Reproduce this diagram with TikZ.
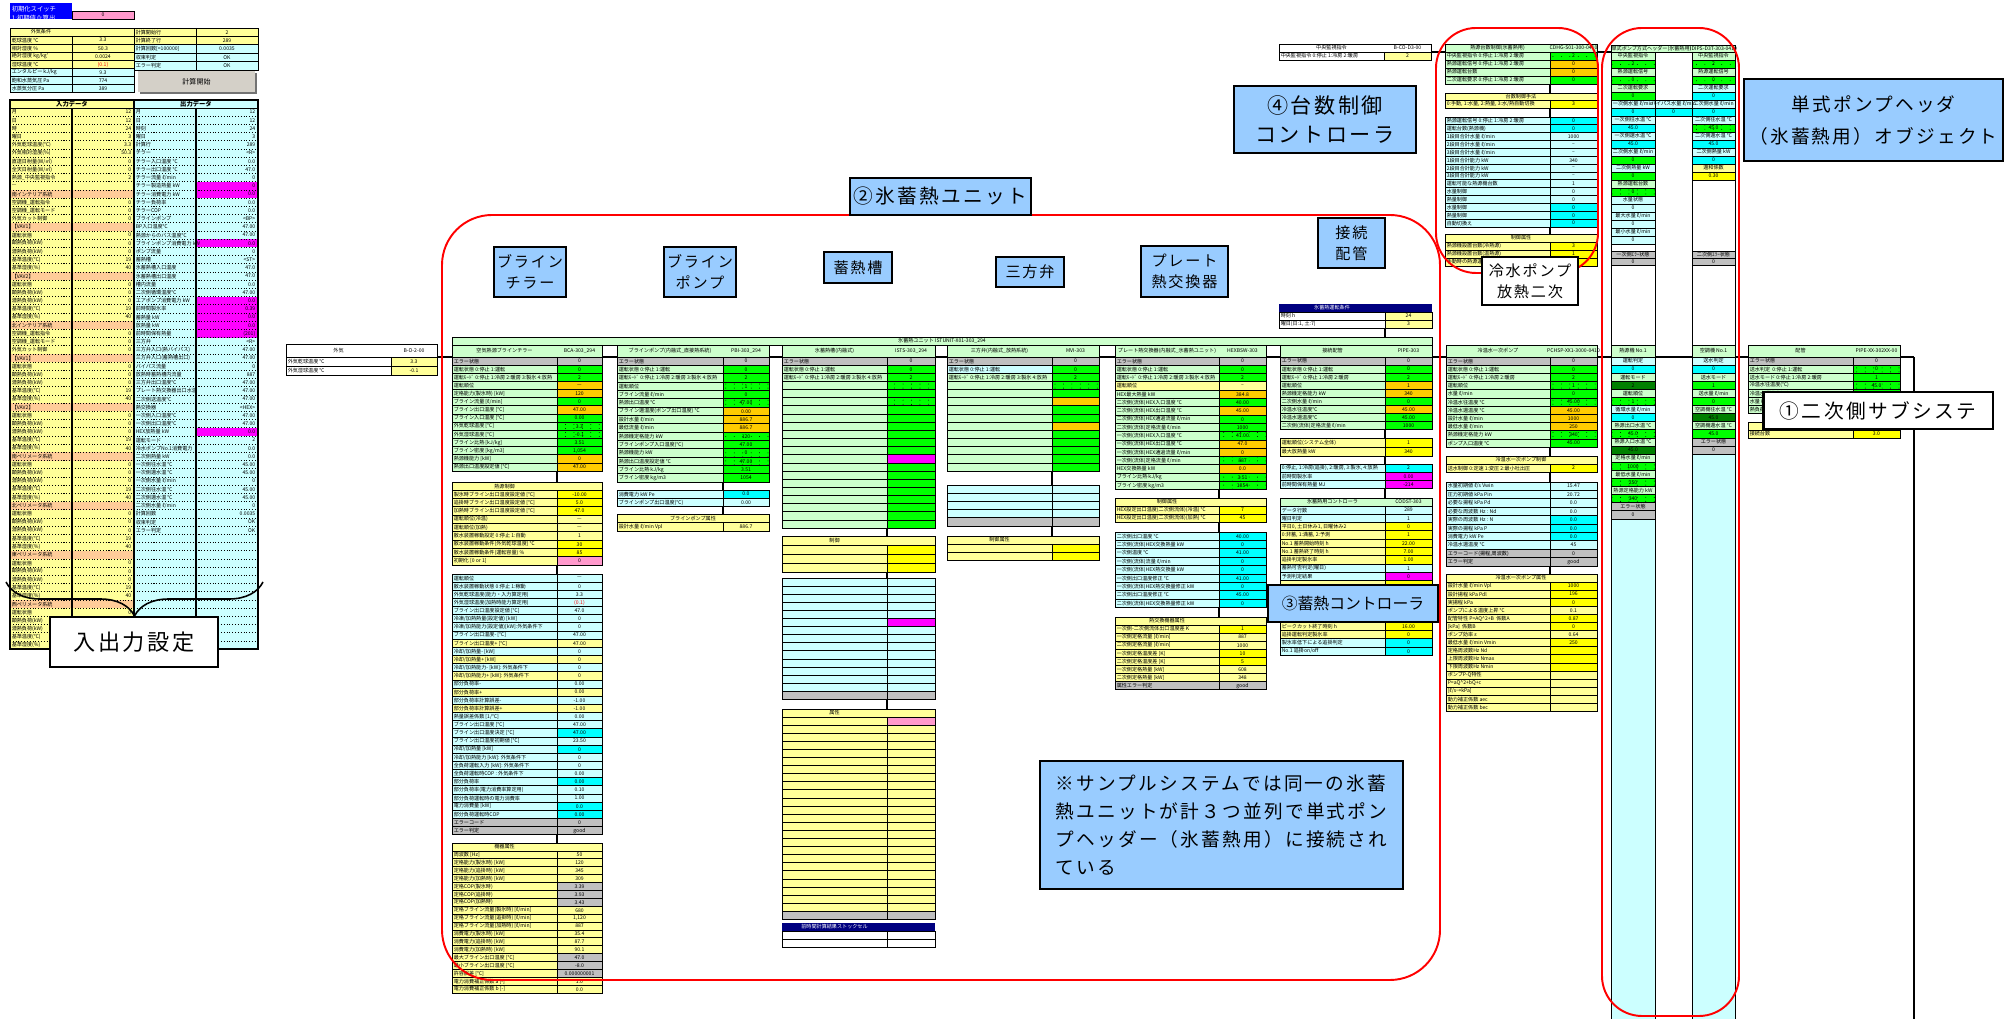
\documentclass[tikz,border=0pt]{standalone}
\usepackage{fontspec}
\setmainfont{Noto Sans CJK JP}
\newfontfamily\calloutfont[LetterSpace=12]{Noto Sans CJK JP}
\usetikzlibrary{positioning,calc,patterns,decorations.pathreplacing}

\definecolor{xlyel}{HTML}{FFFF99}
\definecolor{xyel}{HTML}{FFFF00}
\definecolor{xltg}{HTML}{CCFFCC}
\definecolor{xgrn}{HTML}{00FF00}
\definecolor{xorg}{HTML}{FFCC00}
\definecolor{xlcy}{HTML}{CCFFFF}
\definecolor{xcyn}{HTML}{00FFFF}
\definecolor{xmag}{HTML}{FF00FF}
\definecolor{xpnk}{HTML}{FF99CC}
\definecolor{xpch}{HTML}{FFCC99}
\definecolor{xgry}{HTML}{C0C0C0}
\definecolor{xdkg}{HTML}{008000}
\definecolor{xsky}{HTML}{99CCFF}
\definecolor{xnav}{HTML}{000080}
\definecolor{xblu}{HTML}{0000FF}
\definecolor{xbtn}{HTML}{D4D0C8}

\pgfdeclarepatternformonly{sparsedots}{\pgfqpoint{-0.1pt}{-0.1pt}}{\pgfqpoint{0.1pt}{0.1pt}}{\pgfqpoint{2.4pt}{1.15pt}}{\pgfpathcircle{\pgfqpoint{0pt}{0pt}}{0.14pt}\pgfusepath{fill}}

\tikzset{
  cgray/.style={fill=xgry}, cltg/.style={fill=xltg}, cgrn/.style={fill=xgrn},
  cdot/.style={fill=xgrn,postaction={pattern=sparsedots,pattern color=black}},
  corg/.style={fill=xorg}, cyel/.style={fill=xyel}, clyl/.style={fill=xlyel},
  ccyn/.style={fill=xcyn}, clcy/.style={fill=xlcy}, cmag/.style={fill=xmag},
  cpnk/.style={fill=xpnk}, cpch/.style={fill=xpch}, cwht/.style={fill=white},
  cdkg/.style={fill=xdkg},
  cellrule/.style={draw=black,line width=0.25pt},
  iorule/.style={draw=black,line width=0.2pt,dash pattern=on 0.3pt off 0.5pt},
  celltext/.style={font=\fontsize{1.45}{1.75}\selectfont,inner sep=0.3pt},
  link/.style={draw=black,line width=0.6pt},
  bus/.style={draw=black,line width=0.6pt},
  redframe/.style={draw=red,line width=0.55pt},
  bigcall/.style={draw=black,line width=0.6pt,fill=xsky,align=center,inner sep=0pt,
    font=\calloutfont\fontsize{5.6}{8}\selectfont},
  smallcall/.style={draw=black,line width=0.6pt,fill=xsky,align=center,inner sep=0pt,
    font=\calloutfont\fontsize{4.3}{6}\selectfont},
}

% rows of a sheet table: left, divider, right, top, row height, rows
\newcommand{\sheetrows}[6]{%
  \foreach \lab/\val/\lc/\vc [count=\rowno from 0] in {#6}{%
    \pgfmathsetmacro{\ya}{#4+\rowno*#5}%
    \pgfmathsetmacro{\yb}{\ya+#5}%
    \fill[\lc] (#1,\ya) rectangle (#2,\yb);
    \fill[\vc] (#2,\ya) rectangle (#3,\yb);
    \draw[cellrule] (#1,\ya) rectangle (#3,\yb) (#2,\ya) -- (#2,\yb);
    \node[celltext,anchor=west] at (#1,{(\ya+\yb)/2}) {\lab};
    \node[celltext] at ({(#2+#3)/2},{(\ya+\yb)/2}) {\val};
  }}
% header of a sheet table: left, divider, right, top, bottom, title, code, fill
\newcommand{\sheethead}[8]{%
  \fill[#8] (#1,#4) rectangle (#3,#5);
  \draw[cellrule] (#1,#4) rectangle (#3,#5);
  \node[celltext] at ({(#1+#2)/2},{(#4+#5)/2}) {#6};
  \node[celltext] at ({(#2+#3)/2},{(#4+#5)/2}) {#7};
}
% label above value, one column: left, right, top, cell height, pairs
\newcommand{\pairrows}[5]{%
  \foreach \lab/\val/\lc/\vc [count=\rowno from 0] in {#5}{%
    \pgfmathsetmacro{\ya}{#3+2*\rowno*#4}%
    \pgfmathsetmacro{\yb}{\ya+#4}%
    \pgfmathsetmacro{\yc}{\yb+#4}%
    \fill[\lc] (#1,\ya) rectangle (#2,\yb);
    \fill[\vc] (#1,\yb) rectangle (#2,\yc);
    \draw[cellrule] (#1,\ya) rectangle (#2,\yc) (#1,\yb) -- (#2,\yb);
    \node[celltext] at ({(#1+#2)/2},{(\ya+\yb)/2}) {\lab};
    \node[celltext] at ({(#1+#2)/2},{(\yb+\yc)/2}) {\val};
  }}

\begin{document}
\begin{tikzpicture}[x=0.01cm,y=-0.01cm]
\useasboundingbox (0,0) rectangle (2011,1019);
\fill[white] (0,0) rectangle (2011,1019);

% ---- input / output sheet
\fill[xblu] (10,3) rectangle (72,19);
\node[celltext,text=white,align=left,anchor=north west,font=\fontsize{1.8}{2.6}\selectfont] (switch) at (10,4) {初期化スイッチ\\1:初期値\ 0:算出};
\fill[xpnk] (72,11) rectangle (134,19);
\draw[cellrule] (72,11) rectangle (134,19);
\node[celltext] (switchval) at (103,15) {0};

\sheethead{10}{72}{134}{28}{36.1}{外気条件}{}{clyl}
\sheetrows{10}{72}{134}{36.1}{8.1}{
  {乾球温度 ℃}/3.3/clyl/clyl, {相対湿度 \%}/50.3/clyl/clyl,
  {絶対湿度 kg/kg'}/0.0024/clyl/clyl, {湿球温度 ℃}/\textcolor{red}{(0.1)}/clyl/clyl,
  {エンタルピー kJ/kg}/9.3/clcy/clcy, {飽和水蒸気圧 Pa}/774/clcy/clcy,
  {水蒸気分圧 Pa}/389/clcy/clcy}
\sheetrows{134}{196}{258}{28}{8.4}{
  {計算開始行}/2/clyl/clyl, {計算終了行}/289/clyl/clyl,
  {計算回数[=100000]}/0.0035/clcy/clcy, {収束判定}/OK/clcy/clcy, {エラー判定}/OK/clcy/clcy}
\fill[black!55] (140,73) rectangle (257,94);
\fill[xbtn] (138,71) rectangle (255,92);
\node[font=\fontsize{2}{2.4}\selectfont] (calcbutton) at (196.5,81.5) {計算開始};

\fill[xlyel] (10,100) rectangle (134,649);
\fill[xlcy] (134,100) rectangle (258,649);
\node[celltext,font=\bfseries\fontsize{1.8}{2}\selectfont] (inhead) at (72,104) {入力データ};
\node[celltext,font=\bfseries\fontsize{1.8}{2}\selectfont] (outhead) at (196,104) {出力データ};
\foreach \lab/\val/\st [count=\rowno from 0] in {
  {月}/12/clyl, {日}/12/clyl, {時}/24/clyl, {曜日}/3/clyl,
  {外気乾球温度(℃)}/3.3/clyl, {外気相対湿度(\%)}/50.3/clyl,
  {直達日射量(W/㎡)}/0/clyl, {全天日射量(W/㎡)}/0/clyl,
  {熱源\_中央監視指令}/2/clyl, {—}/{}/clyl,
  {南インテリア系統}/{}/cpch, {空調機\_運転指令}/0/clyl, {空調機\_運転モード}/0/clyl,
  {外気カット制御}/0/clyl, {【VAV1】}/{}/cpch,
  {運転状態}/0/clyl, {顕熱負荷(kW)}/0/clyl, {潜熱負荷(kW)}/0/clyl, {基準温度(℃)}/19/clyl, {基準湿度(\%)}/40/clyl,
  {【VAV2】}/{}/cpch,
  {運転状態}/0/clyl, {顕熱負荷(kW)}/0/clyl, {潜熱負荷(kW)}/0/clyl, {基準温度(℃)}/19/clyl, {基準湿度(\%)}/40/clyl,
  {北インテリア系統}/{}/cpch, {空調機\_運転指令}/0/clyl, {空調機\_運転モード}/0/clyl,
  {外気カット制御}/0/clyl, {【VAV1】}/{}/cpch,
  {運転状態}/0/clyl, {顕熱負荷(kW)}/0/clyl, {潜熱負荷(kW)}/0/clyl, {基準温度(℃)}/19/clyl, {基準湿度(\%)}/40/clyl,
  {【VAV2】}/{}/cpch,
  {運転状態}/0/clyl, {顕熱負荷(kW)}/0/clyl, {潜熱負荷(kW)}/0/clyl, {基準温度(℃)}/19/clyl, {基準湿度(\%)}/40/clyl,
  {南ペリメータ系統}/{}/cpch,
  {運転状態}/0/clyl, {顕熱負荷(kW)}/0/clyl, {潜熱負荷(kW)}/0/clyl, {基準温度(℃)}/19/clyl, {基準湿度(\%)}/40/clyl,
  {北ペリメータ系統}/{}/cpch,
  {運転状態}/0/clyl, {顕熱負荷(kW)}/0/clyl, {潜熱負荷(kW)}/0/clyl, {基準温度(℃)}/19/clyl, {基準湿度(\%)}/40/clyl,
  {東ペリメータ系統}/{}/cpch,
  {運転状態}/0/clyl, {顕熱負荷(kW)}/0/clyl, {潜熱負荷(kW)}/0/clyl, {基準温度(℃)}/19/clyl, {基準湿度(\%)}/40/clyl,
  {西ペリメータ系統}/{}/cpch,
  {運転状態}/0/clyl, {顕熱負荷(kW)}/0/clyl, {潜熱負荷(kW)}/0/clyl, {基準温度(℃)}/19/clyl, {基準湿度(\%)}/40/clyl}{
  \pgfmathsetmacro{\ya}{108+\rowno*8.2}
  \fill[\st] (10,\ya) rectangle ++(124,8.2);
  \node[celltext,anchor=west] at (10,\ya+4.1) {\lab};
  \node[celltext,anchor=east] at (133,\ya+4.1) {\val};
}
\foreach \lab/\val/\st [count=\rowno from 0] in {
  {月}/12/clcy, {日}/12/clcy, {時刻}/24/clcy, {曜日}/3/clcy, {計算行}/289/clcy,
  {チラー}/{<R>}/clcy, {チラー入口温度 ℃}/0.0/clcy, {チラー出口温度 ℃}/47.0/clcy,
  {チラー流量 ℓ/min}/0/clcy, {チラー製造熱量 kW}/0/cmag, {チラー消費電力 kW}/0.0/cmag,
  {チラー負荷率}/0.0/clcy, {チラーCOP}/0.0/clcy, {ブラインポンプ}/{<BP>}/clcy,
  {BP入口温度℃}/47.00/clcy, {熱源からのバス温度℃}/47.00/clcy,
  {ブラインポンプ消費電力 kW}/0.0/cmag, {ポンプ流量}/0/clcy, {蓄熱槽}/{<ST>}/clcy,
  {氷蓄熱槽入口温度}/47.0/clcy, {氷蓄熱槽出口温度}/47.0/clcy, {槽内流量}/0.0/clcy,
  {二次側循環温度℃}/47.00/clcy, {エアポンプ消費電力 kW}/0.0/cmag, {前時間製氷率}/0.39/cmag,
  {蓄熱量 kW}/0.0/cmag, {放熱量 kW}/0.0/cmag, {前時間保有熱量}/(201)/cmag,
  {三方弁}/{<R>}/clcy, {三方弁入口(熱バイパス)}/47.00/clcy, {三方弁入口(蓄熱槽出口)}/47.00/clcy,
  {バイパス流量}/0/clcy, {放熱時蓄熱槽内流量}/887/clcy, {三方弁出口温度℃}/47.00/clcy,
  {プレート熱交換器出口水温}/47.00/clcy, {二次側送温度℃}/47.00/clcy, {熱交換器}/{<HEX>}/clcy,
  {一次側入口温度℃}/47.00/clcy, {一次側出口温度℃}/47.00/clcy, {HEX放熱量 kW}/0.0/cmag,
  {運転モード}/2/clcy, {冷水ポンプNo.1消費電力}/0.0/clcy, {二次側熱量 kW}/0.0/clcy,
  {一次側往水温 ℃}/45.00/clcy, {一次側還水温 ℃}/45.00/clcy, {一次側水量 ℓ/min}/0/clcy,
  {二次側往水温 ℃}/45.00/clcy, {二次側還水温 ℃}/45.00/clcy, {二次側水量 ℓ/min}/0/clcy,
  {計算回数}/0.0035/clcy, {収束判定}/OK/clcy, {エラー判定}/OK/clcy}{
  \pgfmathsetmacro{\ya}{108+\rowno*8.2}
  \fill[\st] (196,\ya) rectangle ++(62,8.2);
  \node[celltext,anchor=west] at (134,\ya+4.1) {\lab};
  \node[celltext,anchor=east] at (257,\ya+4.1) {\val};
}
\foreach \rowno in {1,...,66}
  \draw[iorule] (10,108+\rowno*8.2) -- (258,108+\rowno*8.2);
\draw[cellrule] (10,108) -- (258,108);
\foreach \xc in {72,196}
  \draw[line width=0.5pt] (\xc,108) -- (\xc,649);
\draw[line width=0.6pt] (10,100) rectangle (134,649) (134,100) rectangle (258,649);

\draw[decorate,decoration={brace,amplitude=0.34cm,aspect=0.5},line width=0.45pt]
  (263,582) -- (6,582);
\node[draw=black,line width=0.6pt,fill=white,minimum width=1.68cm,minimum height=0.50cm,
  font=\calloutfont\fontsize{6.3}{8}\selectfont] (ionote) at (134,642) {入出力設定};

% ---- outdoor air
\sheethead{286}{391}{437}{344}{357}{外気}{B-O-2-00}{cwht}
\sheetrows{286}{391}{437}{357}{9}{{外気乾球温度 ℃}/3.3/cwht/clyl, {外気湿球温度 ℃}/-0.1/cwht/clyl}

\draw[bus] (437,357) -- (1914,357);
\draw[bus] (1431,52) -- (1611,52);
\draw[bus] (1914,357) -- (1914,1019);

% ---- ice storage unit
\fill[xltg] (452,337) rectangle (1432,345);
\draw[cellrule] (452,337) rectangle (1432,345);
\node[celltext] (unitbar) at (942,341) {氷蓄熱ユニット ISTUNIT-X01-303\_294};

\sheethead{452}{557}{602}{345}{357}{空気熱源ブラインチラー}{BCA-303\_294}{cltg}
\sheetrows{452}{557}{602}{357}{8.15}{
  {エラー状態}/0/cgray/cgray,
  {運転状態\ 0:停止 1:運転}/0/cltg/cgrn,
  {運転ﾓｰﾄﾞ\ 0:停止 1:冷房 2:暖房 3:製氷 4:放熱}/2/cltg/cgrn,
  {運転順位}/—/cltg/corg,
  {定格能力(製氷時) [kW]}/120/cltg/corg,
  {ブライン流量 [ℓ/min]}/0/cltg/cgrn,
  {ブライン出口温度 [℃]}/47.00/cltg/corg,
  {ブライン入口温度 [℃]}/0.00/cltg/cgrn,
  {外気乾球温度 [℃]}/3.3/cltg/cdot,
  {外気湿球温度 [℃]}/-0.1/cltg/cdot,
  {ブライン比熱 [kJ/kg]}/3.51/cltg/cgrn,
  {ブライン密度 [kg/m3]}/{1,054}/cltg/cgrn,
  {熱源機能力 [kW]}/0/cltg/corg,
  {熱源出口温度設定値 [℃]}/47.00/cltg/corg}
\draw[link] (557,471) -- (557,482);
\sheethead{452}{557}{602}{482}{490.3}{熱源制御}{}{clyl}
\sheetrows{452}{557}{602}{490.3}{8.3}{
  {製氷時ブライン出口温度設定値 [℃]}/-10.00/clyl/cyel,
  {追掛時ブライン出口温度設定値 [℃]}/5.0/clyl/cyel,
  {加熱時ブライン出口温度設定値 [℃]}/47.0/clyl/cyel,
  {運転順位(冷温)}/—/clyl/clyl,
  {運転順位(加熱)}/—/clyl/clyl,
  {散水装置稼動設定\ 0:停止 1:自動}/1/clyl/clyl,
  {散水装置稼動条件(外気乾球温度) ℃}/30/clyl/cyel,
  {散水装置稼動条件(運転容量) \%}/85/clyl/cyel,
  {初期化 [0 or 1]}/0/clyl/cpnk}
\draw[link] (557,565) -- (557,574);
\sheetrows{452}{557}{602}{574}{8.15}{
  {運転順位}/—/clcy/clcy,
  {散水装置稼動状態\ 0:停止 1:稼動}/0/clcy/clcy,
  {外気乾球温度(能力・入力算定用)}/3.3/clcy/clcy,
  {外気湿球温度(加熱時能力算定用)}/\textcolor{red}{(0.1)}/clcy/clcy,
  {ブライン出口温度設定値 [℃]}/47.0/clcy/clcy,
  {冷凍/加熱熱量(設定値) [kW]}/0/clcy/clcy,
  {冷凍/加熱能力(設定値)[kW]:外気条件下}/0/clcy/clcy,
  {ブライン出口温度- [℃]}/47.00/clcy/clcy,
  {ブライン出口温度+ [℃]}/47.00/clyl/clyl,
  {冷却/加熱量- [kW]}/0/clcy/clcy,
  {冷却/加熱量+ [kW]}/0/clyl/clyl,
  {冷却/加熱能力- [kW]:\ 外気条件下}/0/clcy/clcy,
  {冷却/加熱能力+ [kW]:\ 外気条件下}/0/clyl/clyl,
  {部分負荷率-}/0.00/clcy/clcy,
  {部分負荷率+}/0.00/clyl/clyl,
  {部分負荷率計算誤差-}/-1.00/clcy/clcy,
  {部分負荷率計算誤差+}/-1.00/clyl/clyl,
  {熱量誤差係数 [1/℃]}/0.00/clcy/clcy,
  {ブライン出口温度 [℃]}/47.00/clcy/clcy,
  {ブライン出口温度決定 [℃]}/47.00/clcy/ccyn,
  {ブライン出口温度初期値 [℃]}/23.50/clcy/clcy,
  {冷却/加熱量 [kW]}/0/clcy/ccyn,
  {冷却/加熱能力 [kW]:\ 外気条件下}/0/clcy/clcy,
  {全負荷運転入力 [kW]:\ 外気条件下}/0/clcy/clcy,
  {全負荷運転時COP\ :\ 外気条件下}/0.00/clcy/clcy,
  {部分負荷率}/0.00/clcy/ccyn,
  {部分負荷率(電力消費率算定用)}/0.10/clcy/clcy,
  {部分負荷運転時の電力消費率}/1.00/clcy/clcy,
  {電力消費量 [kW]}/0.0/clcy/ccyn,
  {部分負荷運転時COP}/0.00/clcy/ccyn,
  {エラーコード}/0/cgray/cgray,
  {エラー判定}/good/cgray/cgray}
\draw[link] (557,835) -- (557,843);
\sheethead{452}{557}{602}{843}{851}{機器属性}{}{clyl}
\sheetrows{452}{557}{602}{851}{7.9}{
  {周波数 [Hz]}/50/clyl/clyl,
  {定格能力(製氷時) [kW]}/120/clyl/clyl,
  {定格能力(追掛時) [kW]}/345/clyl/clyl,
  {定格能力(加熱時) [kW]}/309/clyl/clyl,
  {定格COP(製氷時)}/3.39/clyl/cgray,
  {定格COP(追掛時)}/3.93/clyl/cgray,
  {定格COP(加熱時)}/3.43/clyl/cgray,
  {定格ブライン流量(製氷時) [ℓ/min]}/680/clyl/clyl,
  {定格ブライン流量(追掛時) [ℓ/min]}/{1,120}/clyl/clyl,
  {定格ブライン流量(加熱時) [ℓ/min]}/887/clyl/clyl,
  {消費電力(製氷時) [kW]}/35.4/clyl/clyl,
  {消費電力(追掛時) [kW]}/87.7/clyl/clyl,
  {消費電力(加熱時) [kW]}/90.1/clyl/clyl,
  {最大ブライン出口温度 [℃]}/47.0/clyl/cgray,
  {最小ブライン出口温度 [℃]}/-8.0/clyl/cgray,
  {許容誤差 [℃]}/0.000000001/clyl/cgray,
  {電力消費補正係数 a [-]}/1.0/clyl/clyl,
  {電力消費補正係数 b [-]}/0.0/clyl/clyl}

\sheethead{617}{723}{769}{345}{357}{ブラインポンプ(内融式\_直接熱系統)}{PBI-303\_294}{cltg}
\sheetrows{617}{723}{769}{357}{8.35}{
  {エラー状態}/0/cgray/cgray,
  {運転状態\ 0:停止 1:運転}/0/cltg/cgrn,
  {運転ﾓｰﾄﾞ\ 0:停止 1:冷房 2:暖房 3:製氷 4:放熱}/2/cltg/cgrn,
  {運転順位}/1/cltg/cdot,
  {ブライン流量 ℓ/min}/0/cltg/cgrn,
  {熱源出口温度 ℃}/47.00/cltg/cdot,
  {ブライン還温度(ポンプ出口温度) ℃}/0.00/cltg/corg,
  {設計水量 ℓ/min}/886.7/cltg/corg,
  {最低流量 ℓ/min}/886.7/cltg/corg,
  {熱源機定格能力 kW}/120/cltg/cdot,
  {ブラインポンプ入口温度(℃)}/47.00/cltg/cgrn,
  {熱源機能力 kW}/0/cltg/cdot,
  {熱源出口温度設定値 ℃}/47.00/cltg/cdot,
  {ブライン比熱 kJ/kg}/3.51/cltg/cgrn,
  {ブライン密度 kg/m3}/1054/cltg/cgrn}
\draw[link] (723,482) -- (723,490);
\sheetrows{617}{723}{769}{490}{8.35}{
  {消費電力 kW Pe}/0.0/clcy/ccyn,
  {ブラインポンプ出口温度(℃)}/0.00/clcy/clcy}
\draw[link] (723,506.7) -- (723,514);
\sheethead{617}{723}{769}{514}{522.5}{}{}{clyl}
\node[celltext] (pumpattr) at (693,518.3) {ブラインポンプ属性};
\sheetrows{617}{723}{769}{522.5}{8.5}{{設計水量\ ℓ/min Vpl}/886.7/clyl/clyl}

% storage tank
\sheethead{782}{887}{935}{345}{357}{氷蓄熱槽(内融式)}{ISTS-303\_294}{cltg}
\sheetrows{782}{887}{935}{357}{8.15}{
  {エラー状態}/0/cgray/cgray,
  {運転状態\ 0:停止 1:運転}/0/cltg/cgrn,
  {運転ﾓｰﾄﾞ\ 0:停止 1:冷房 2:暖房 3:製氷 4:放熱}/2/cltg/cgrn,
  {}/{}/cltg/cdot, {}/{}/cltg/cgrn, {}/{}/cltg/cdot, {}/{}/cltg/cgrn,
  {}/{}/cltg/cgrn, {}/{}/cltg/cgrn, {}/{}/cltg/cgrn, {}/{}/cltg/cgrn,
  {}/{}/cltg/cgrn, {}/{}/cltg/cmag, {}/{}/cltg/cgrn, {}/{}/cltg/cgrn,
  {}/{}/cltg/cgrn, {}/{}/cltg/cgrn, {}/{}/cltg/cgrn, {}/{}/cltg/cgrn,
  {}/{}/cltg/cgrn, {}/{}/cltg/cgrn}
\draw[link] (887,528) -- (887,536);
\sheethead{782}{887}{935}{536}{545}{制御}{}{clyl}
\sheetrows{782}{887}{935}{545}{9}{{}/{}/clyl/cyel, {}/{}/clyl/cyel, {}/{}/clyl/cyel}
\draw[link] (887,572) -- (887,578);
\sheetrows{782}{887}{935}{578}{8.1}{
  {}/{}/clcy/clcy, {}/{}/clcy/clcy, {}/{}/clcy/clcy, {}/{}/clcy/clcy, {}/{}/clcy/clcy,
  {}/{}/clcy/cmag, {}/{}/clcy/clcy, {}/{}/clcy/clcy, {}/{}/clcy/clcy, {}/{}/clcy/clcy,
  {}/{}/clcy/clcy, {}/{}/clcy/clcy, {}/{}/clcy/clcy, {}/{}/clcy/clcy, {}/{}/cgray/cgray}
\draw[link] (887,699.5) -- (887,709);
\sheethead{782}{887}{935}{709}{717}{属性}{}{clyl}
\sheetrows{782}{887}{935}{717}{8.1}{
  {}/{}/clyl/cpnk, {}/{}/clyl/clyl, {}/{}/clyl/clyl, {}/{}/clyl/clyl, {}/{}/clyl/clyl,
  {}/{}/clyl/clyl, {}/{}/clyl/clyl, {}/{}/clyl/clyl, {}/{}/clyl/clyl, {}/{}/clyl/clyl,
  {}/{}/clyl/clyl, {}/{}/clyl/clyl, {}/{}/clyl/clyl, {}/{}/clyl/clyl, {}/{}/clyl/clyl,
  {}/{}/clyl/clyl, {}/{}/clyl/clyl, {}/{}/clyl/clyl, {}/{}/clyl/clyl, {}/{}/clyl/clyl,
  {}/{}/clyl/clyl, {}/{}/clyl/clyl, {}/{}/clyl/clyl, {}/{}/clyl/clyl, {}/{}/cgray/cgray}
\fill[xnav] (782,923) rectangle (935,931);
\node[celltext,text=white] (laststock) at (834.5,927) {前時間計算結果ストックセル};
\sheetrows{782}{887}{935}{931}{8}{{}/{}/cwht/cwht, {}/{}/cwht/cwht}

% three way valve
\sheethead{947}{1052}{1099}{345}{357}{三方弁(内融式\_放熱系統)}{MVI-303}{cltg}
\sheetrows{947}{1052}{1099}{357}{8.15}{
  {エラー状態}/0/cgray/cgray,
  {運転状態\ 0:停止 1:運転}/0/clcy/cgrn,
  {運転ﾓｰﾄﾞ\ 0:停止 1:冷房 2:暖房 3:製氷 4:放熱}/2/cltg/cgrn,
  {}/{}/cltg/cdot, {}/{}/cltg/cgrn, {}/{}/cltg/corg, {}/{}/cltg/cgrn,
  {}/{}/cltg/cgrn, {}/{}/cltg/corg, {}/{}/cltg/cgrn, {}/{}/cltg/cgrn,
  {}/{}/cltg/cgrn, {}/{}/cltg/cgrn, {}/{}/cltg/cgrn}
\draw[link] (1052,471) -- (1052,485);
\sheetrows{947}{1052}{1099}{485}{8.2}{
  {}/{}/clcy/clcy, {}/{}/clcy/clcy, {}/{}/clcy/clcy, {}/{}/clcy/clcy, {}/{}/cgray/cgray}
\draw[link] (1052,526) -- (1052,536);
\sheethead{947}{1052}{1099}{536}{544}{制御属性}{}{clyl}
\sheetrows{947}{1052}{1099}{544}{8.2}{{}/{}/clyl/cyel, {}/{}/clyl/cyel}

% plate heat exchanger
\sheethead{1115}{1219}{1266}{345}{357}{プレート熱交換器(内融式\_氷蓄熱ユニット)}{HEXBSW-303}{cltg}
\sheetrows{1115}{1219}{1266}{357}{8.3}{
  {エラー状態}/0/cgray/cgray,
  {運転状態\ 0:停止 1:運転}/0/cltg/cgrn,
  {運転ﾓｰﾄﾞ\ 0:停止 1:冷房 2:暖房 3:製氷 4:放熱}/2/cltg/cgrn,
  {運転順位}/–/clyl/clyl,
  {HEX最大熱量 kW}/384.8/cltg/corg,
  {二次側(流体)HEX入口温度 ℃}/40.00/cltg/cgrn,
  {二次側(流体)HEX出口温度 ℃}/45.00/cltg/corg,
  {二次側(流体)HEX通過流量 ℓ/min}/0/cltg/cgrn,
  {二次側(流体)定格流量 ℓ/min}/1000/cltg/cgrn,
  {一次側(流体)HEX入口温度 ℃}/47.00/cltg/cdot,
  {一次側(流体)HEX出口温度 ℃}/47.0/cltg/corg,
  {一次側(流体)HEX通過流量 ℓ/min}/0/cltg/corg,
  {一次側(流体)定格流量 ℓ/min}/887/cltg/cdot,
  {HEX交換熱量 kW}/0.0/cltg/corg,
  {ブライン比熱 kJ/kg}/3.51/cltg/cdot,
  {ブライン密度 kg/m3}/1054/cltg/cdot}
\draw[link] (1219,490) -- (1219,498);
\sheethead{1115}{1219}{1266}{498}{506}{制御属性}{}{clyl}
\sheetrows{1115}{1219}{1266}{506}{8}{
  {HEX設定出口温度(二次側流体)(冷温)\ ℃}/7/clyl/cyel,
  {HEX設定出口温度(二次側流体)(加熱)\ ℃}/45/clyl/cyel}
\draw[link] (1219,522) -- (1219,532);
\sheetrows{1115}{1219}{1266}{532}{8.4}{
  {二次側出口温度 ℃}/40.00/clcy/ccyn,
  {二次側(流体)HEX交換熱量 kW}/0/clcy/ccyn,
  {一次側温度 ℃}/41.00/clcy/ccyn,
  {一次側(流体)流量 ℓ/min}/0/clcy/ccyn,
  {一次側(流体)HEX熱交換量 kW}/0/clcy/ccyn,
  {一次側出口温度修正 ℃}/41.00/clcy/ccyn,
  {一次側(流体)HEX熱交換量修正 kW}/0/clcy/ccyn,
  {二次側出口温度修正 ℃}/45.00/clcy/ccyn,
  {二次側(流体)HEX交換熱量修正 kW}/0/clcy/ccyn}
\draw[link] (1219,607.6) -- (1219,617);
\sheethead{1115}{1219}{1266}{617}{625}{熱交換機器属性}{}{clyl}
\sheetrows{1115}{1219}{1266}{625}{8.1}{
  {一次側-二次側流体出口温度差 K}/1/clyl/cyel,
  {一次側定格流量 [ℓ/min]}/887/clyl/clyl,
  {二次側定格流量 [ℓ/min]}/1000/clyl/clyl,
  {一次側定格温度差 [K]}/10/clyl/cyel,
  {二次側定格温度差 [K]}/5/clyl/cyel,
  {一次側定格熱量 [kW]}/608/clyl/clyl,
  {二次側定格熱量 [kW]}/348/clyl/clyl,
  {属性エラー判定}/good/cgray/cgray}

% connecting pipe and controller
\fill[xnav] (1279,304) rectangle (1432,312);
\node[celltext,text=white] (opcond) at (1332,308) {氷蓄熱運転条件};
\sheetrows{1279}{1385}{1432}{312}{8}{{時刻 h}/24/cwht/clyl, {曜日(日:1, 土:7)}/3/cwht/clyl}
\draw[link] (1385,328) -- (1385,337);
\sheethead{1280}{1385}{1432}{345}{357}{接続配管}{PIPE-303}{cltg}
\sheetrows{1280}{1385}{1432}{357}{8.1}{
  {エラー状態}/0/cgray/cgray,
  {運転状態\ 0:停止 1:運転}/0/cltg/cgrn,
  {運転ﾓｰﾄﾞ\ 0:停止 1:冷房 2:暖房}/2/cltg/cgrn,
  {運転順位}/1/cltg/corg,
  {熱源機定格能力 kW}/340/cltg/corg,
  {二次側水量 ℓ/min}/0/cltg/cgrn,
  {冷温水往温度℃}/45.00/cltg/corg,
  {冷温水還温度℃}/45.00/cltg/cgrn,
  {二次側(流体)定格流量 ℓ/min}/1000/cltg/cgrn}
\draw[link] (1385,430) -- (1385,438);
\sheetrows{1280}{1385}{1432}{438}{9}{
  {運転順位(システム全体)}/1/clyl/cyel, {最大放熱量 kW}/340/clyl/cyel}
\draw[link] (1385,456) -- (1385,464);
\sheetrows{1280}{1385}{1432}{464}{8.3}{
  {0:停止, 1:冷房(追掛), 2:暖房, 3:製氷, 4:放熱}/2/clcy/ccyn,
  {前時間製氷率}/0.00/clcy/cmag,
  {前時間保有熱量 MJ}/-214/clcy/cmag}
\draw[link] (1385,489) -- (1385,498);
\sheethead{1280}{1385}{1432}{498}{506}{氷蓄熱用コントローラ}{CODST-303}{cltg}
\sheetrows{1280}{1385}{1432}{506}{8.3}{
  {データ行数}/289/clcy/clcy,
  {曜日判定}/1/clcy/clcy,
  {平日0, 土日休み1, 日曜休み2}/0/clyl/cyel,
  {0:非蓄, 1:満蓄, 2:予測}/1/clyl/cyel,
  {No.1 蓄熱開始時刻 h}/22.00/clyl/cyel,
  {No.1 蓄熱終了時刻 h}/7.00/clyl/cyel,
  {追掛判定製氷率}/1.00/clyl/cyel,
  {蓄熱可否判定(曜日)}/1/clcy/clcy,
  {予測判定結果}/0/clcy/cmag,
  {}/{}/clyl/cyel, {}/{}/clyl/cyel, {}/{}/clyl/cyel, {}/{}/clyl/cyel, {}/{}/clyl/cyel,
  {ピークカット終了時刻 h}/16.00/clyl/cyel,
  {追掛運転判定製氷率}/0/clyl/cyel,
  {製氷率低下による追掛判定}/0/clcy/ccyn,
  {No.1 追掛on/off}/0/clcy/ccyn}

% ---- central command and number control
\sheethead{1279}{1384}{1431}{44}{52}{中央監視指令}{B-CO-D3-00}{cwht}
\sheetrows{1279}{1384}{1431}{52}{8}{{中央監視指令\ 0:停止 1:冷房 2:暖房}/2/cwht/clyl}

\sheethead{1445}{1550}{1597}{44}{52}{熱源台数制御(氷蓄熱用)}{CDHG-S01-300-0410}{cltg}
\sheetrows{1445}{1550}{1597}{52}{8}{
  {中央監視指令\ 0:停止 1:冷房 2:暖房}/2/cltg/cdot,
  {熱源運転信号\ 0:停止 1:冷房 2:暖房}/0/cltg/corg,
  {熱源運転台数}/0/cltg/corg,
  {二次運転要求\ 0:停止 1:冷房 2:暖房}/0/cltg/cgrn}
\draw[link] (1550,84) -- (1550,93);
\sheethead{1445}{1597}{1597}{93}{100}{}{}{clyl}
\node[celltext] (ctrlmethod) at (1521,96.5) {台数制御手法};
\sheetrows{1445}{1550}{1597}{100}{8}{{0:手動, 1:水量, 2:熱量, 3:水/熱自動切換}/3/clyl/cyel}
\draw[link] (1550,108) -- (1550,117);
\sheetrows{1445}{1550}{1597}{117}{7.86}{
  {熱源運転信号\ 0:停止 1:冷房 2:暖房}/0/clcy/ccyn,
  {運転台数(熱源機)}/0/clcy/ccyn,
  {1段目合計水量 ℓ/min}/1000/clcy/clcy,
  {2段目合計水量 ℓ/min}/–/clcy/clcy,
  {3段目合計水量 ℓ/min}/–/clcy/clcy,
  {1段目合計能力 kW}/340/clcy/clcy,
  {2段目合計能力 kW}/–/clcy/clcy,
  {3段目合計能力 kW}/–/clcy/clcy,
  {運転可能な熱源機台数}/1/clcy/clcy,
  {水量制御}/0/clcy/clcy,
  {熱量制御}/0/clcy/clcy,
  {水量制御}/0/clcy/ccyn,
  {熱量制御}/0/clcy/ccyn,
  {自動切換え}/0/clcy/ccyn}
\draw[link] (1550,227) -- (1550,234);
\sheethead{1445}{1597}{1597}{234}{242}{}{}{clyl}
\node[celltext] (ctrlattr) at (1521,238) {制御属性};
\sheetrows{1445}{1550}{1597}{242}{8}{
  {熱源機設置台数(冷熱源)}/3/clyl/cyel,
  {熱源機設置台数(温熱源)}/1/clyl/cyel,
  {手動時の熱源運転台数}/1/clyl/cyel}

% ---- pump header object
\sheethead{1611}{1692}{1735}{45}{52}{単式ポンプ方式ヘッダー(氷蓄熱用)}{IDIPS-D3T-303-0410}{cltg}
\draw[cellrule] (1611,52) -- (1611,1019) (1655,52) -- (1655,1019)
  (1692,52) -- (1692,1019) (1735,52) -- (1735,1019);
\pairrows{1611}{1655}{52}{8}{
  {中央監視指令}/2/cltg/cdot, {熱源運転信号}/0/cltg/cdot, {二次運転要求}/0/cltg/cgrn,
  {一次側水量 ℓ/min}/0/clcy/ccyn, {一次側往水温 ℃}/45.0/clcy/ccyn, {一次側還水温 ℃}/45.0/clcy/ccyn,
  {二次側水量 ℓ/min}/0/clcy/cgrn, {二次側熱量 kW}/0/clcy/cgrn, {熱源運転台数}/0/cltg/cdot,
  {水量状態}/0/clcy/clcy, {最大水量 ℓ/min}/0/clcy/clcy, {最小水量 ℓ/min}/0/clcy/clcy}
\pairrows{1692}{1735}{52}{8}{
  {中央監視指令}/2/cltg/cdot, {熱源運転信号}/0/cltg/cdot, {二次運転要求}/0/clcy/ccyn,
  {二次側水量 ℓ/min}/0/clcy/ccyn, {二次側往水温 ℃}/45.0/clcy/cdot, {二次側還水温 ℃}/45.0/clcy/ccyn,
  {二次側熱量 kW}/0/clcy/ccyn, {還和係数}/0.30/clyl/cyel}
\pairrows{1655}{1692}{100}{8}{{バイパス水量 ℓ/min}/0/clcy/ccyn}
\pairrows{1611}{1655}{251}{7}{{一次側ｴﾗｰ状態}/0/cgray/cgray}
\pairrows{1692}{1735}{251}{7}{{二次側ｴﾗｰ状態}/0/cgray/cgray}

% ---- secondary side
\sheethead{1446}{1550}{1597}{345}{357}{冷温水一次ポンプ}{PCHSP-XX1-3000-0410}{cltg}
\sheetrows{1446}{1550}{1597}{357}{8.2}{
  {エラー状態}/0/cgray/cgray,
  {運転状態\ 0:停止 1:運転}/0/cltg/cgrn,
  {運転ﾓｰﾄﾞ\ 0:停止 1:冷房 2:暖房}/2/cltg/cgrn,
  {運転順位}/1/cltg/cdot,
  {水量 ℓ/min}/0/cltg/cgrn,
  {冷温水往温度 ℃}/45.00/cltg/cdot,
  {冷温水還温度 ℃}/45.00/cltg/corg,
  {設計水量 ℓ/min}/1000/cltg/corg,
  {最低水量 ℓ/min}/250/cltg/corg,
  {熱源機定格能力 kW}/340/cltg/cdot,
  {ポンプ入口温度 ℃}/45.00/cltg/cgrn}
\draw[link] (1550,447.2) -- (1550,456);
\sheethead{1446}{1597}{1597}{456}{464}{}{}{clyl}
\node[celltext] (pumpctl) at (1521,460) {冷温水一次ポンプ制御};
\sheetrows{1446}{1550}{1597}{464}{8.2}{{送水制御 0:定速 1:変圧 2:最小吐出圧}/2/clyl/cyel}
\draw[link] (1550,472.2) -- (1550,482);
\sheetrows{1446}{1550}{1597}{482}{8.4}{
  {水量初期値 ℓ/s Vwin}/15.47/clcy/clcy,
  {圧力初期値 kPa Pin}/20.72/clcy/clcy,
  {必要な揚程 kPa Pd}/0.0/clcy/clcy,
  {必要な周波数 Hz : Nd}/0.0/clcy/clcy,
  {実際の周波数 Hz : N}/0.0/clcy/ccyn,
  {実際の揚程 kPa P}/0.0/clcy/ccyn,
  {消費電力 kW Pe}/0.0/clcy/ccyn,
  {冷温水還温度 ℃}/45/clcy/clcy,
  {エラーコード(揚程,周波数)}/0/cgray/cgray,
  {エラー判定}/good/cgray/cgray}
\draw[link] (1550,566) -- (1550,574);
\sheethead{1446}{1597}{1597}{574}{582}{}{}{clyl}
\node[celltext] (pumpattr2) at (1521,578) {冷温水一次ポンプ属性};
\sheetrows{1446}{1550}{1597}{582}{8.1}{
  {設計水量\ ℓ/min Vpl}/1000/clyl/cyel,
  {設計揚程 kPa Pdl}/196/clyl/cyel,
  {実揚程 kPa}/0/clyl/cyel,
  {ポンプによる温度上昇 ℃}/0.1/clyl/clyl,
  {配管特性 P=AQ\textasciicircum 2+B\ \ 係数A}/0.87/clyl/cyel,
  {[kPa]\ \ 係数B}/0/clyl/cyel,
  {ポンプ効率 ε}/0.64/clyl/clyl,
  {最低水量 ℓ/min Vmin}/250/clyl/cyel,
  {定格周波数Hz Nd}/{}/clyl/cyel,
  {上限周波数Hz Nmax}/{}/clyl/cyel,
  {下限周波数Hz Nmin}/{}/clyl/cyel,
  {ポンプP-Q特性}/{}/clyl/clyl,
  {P=aQ\textasciicircum 2+bQ+c}/{}/clyl/clyl,
  {[ℓ/s→kPa]}/{}/clyl/clyl,
  {動力補正係数 aec}/{}/clyl/clyl,
  {動力補正係数 bec}/{}/clyl/clyl}

\fill[xlcy] (1611,519) rectangle (1655,1019);
\fill[xlcy] (1692,454) rectangle (1735,1019);
\draw[cellrule] (1611,345) -- (1611,1019) (1655,345) -- (1655,1019)
  (1692,345) -- (1692,1019) (1735,345) -- (1735,1019);
\sheethead{1611}{1655}{1655}{345}{357}{}{}{cltg}
\node[celltext] (srcno) at (1633,351) {熱源機 No.1};
\pairrows{1611}{1655}{357}{8.1}{
  {運転判定}/0/clcy/ccyn, {運転モード}/2/cltg/cdkg, {運転順位}/1/cltg/cdot,
  {循環水量 ℓ/min}/0/clcy/ccyn, {熱源出口水温 ℃}/45.0/cltg/cdot, {熱源入口水温 ℃}/45.0/cltg/cdkg,
  {定格水量 ℓ/min}/1000/cltg/cdot, {最低水量 ℓ/min}/250/cltg/cdot, {熱源定格能力 kW}/340/cltg/cdot,
  {エラー状態}/0/cgray/cgray}
\sheethead{1692}{1735}{1735}{345}{357}{}{}{cltg}
\node[celltext] (ahuno) at (1713.5,351) {空調機 No.1};
\pairrows{1692}{1735}{357}{8.1}{
  {送水判定}/0/clcy/ccyn, {送水モード}/1/cltg/cgrn, {送水量 ℓ/min}/0/cltg/cgrn,
  {空調機往水温 ℃}/45.0/cltg/cdkg, {空調機還水温 ℃}/45.0/cltg/cgrn, {エラー状態}/0/cgray/cgray}

\sheethead{1748}{1853}{1900}{345}{357}{配管}{PIPE-XX-302XX-00}{cltg}
\sheetrows{1748}{1853}{1900}{357}{8.1}{
  {エラー状態}/0/cgray/cgray,
  {送水判定\ \ 0:停止 1:運転}/0/cltg/cdot,
  {送水モード\ 0:停止 1:冷房 2:暖房}/1/cltg/cgrn,
  {冷温水往温度(℃)}/45.0/cltg/cdot,
  {冷温水還温度(℃)}/45.0/cltg/cgrn,
  {水量 ℓ/min}/0/cltg/cgrn,
  {熱負荷 kW}/0/cltg/cgrn}
\sheethead{1748}{1900}{1900}{422}{430}{}{}{clyl}
\sheetrows{1748}{1853}{1900}{430}{8.1}{{接続台数}/3.0/clyl/cyel}

% ---- red groups
\draw[redframe,rounded corners=0.5cm] (442,215) rectangle (1440,980);
\draw[redframe,rounded corners=0.4cm] (1436,28) rectangle (1598,273);
\draw[redframe,rounded corners=0.4cm] (1602,28) rectangle (1739,1016);

% ---- labels
\node[bigcall,minimum width=1.81cm,minimum height=0.37cm] (unitlabel) at (940.5,196.5) {②氷蓄熱ユニット};
\node[smallcall,minimum width=0.72cm,minimum height=0.50cm] (chillerlabel) at (530,272) {ブライン\\チラー};
\node[smallcall,minimum width=0.72cm,minimum height=0.50cm] (pumplabel) at (700,272) {ブライン\\ポンプ};
\node[smallcall,minimum width=0.68cm,minimum height=0.31cm] (tanklabel) at (858,267.5) {蓄熱槽};
\node[smallcall,minimum width=0.68cm,minimum height=0.30cm] (valvelabel) at (1030,272) {三方弁};
\node[smallcall,minimum width=0.87cm,minimum height=0.51cm] (hexlabel) at (1184.5,271.5) {プレート\\熱交換器};
\node[smallcall,minimum width=0.67cm,minimum height=0.50cm] (pipelabel) at (1351.5,243) {接続\\配管};
\node[bigcall,font=\calloutfont\fontsize{6}{8}\selectfont,minimum width=1.82cm,minimum height=0.67cm] (ctrllabel) at (1325,119.5) {④台数制御\\コントローラ};
\node[bigcall,font=\calloutfont\fontsize{5.3}{9.1}\selectfont,minimum width=2.59cm,minimum height=0.82cm] (headerlabel) at (1873.5,120) {単式ポンプヘッダ\\（氷蓄熱用）オブジェクト};
\node[smallcall,fill=white,minimum width=0.96cm,minimum height=0.48cm] (pumpnote) at (1530,281) {冷水ポンプ\\放熱二次};
\node[smallcall,font=\fontsize{4.5}{6}\selectfont,minimum width=1.70cm,minimum height=0.37cm] (storagectl) at (1353,603.5) {③蓄熱コントローラ};
\node[bigcall,fill=white,minimum width=2.29cm,minimum height=0.37cm] (secondlabel) at (1878,410.5) {①二次側サブシステ};
\node[bigcall,font=\calloutfont\fontsize{5.3}{8}\selectfont,align=left,minimum width=3.63cm,minimum height=1.28cm] (samplenote) at (1221.5,825) {※サンプルシステムでは同一の氷蓄\\熱ユニットが計３つ並列で単式ポン\\プヘッダー（氷蓄熱用）に接続され\\ている};
\end{tikzpicture}
\end{document}
